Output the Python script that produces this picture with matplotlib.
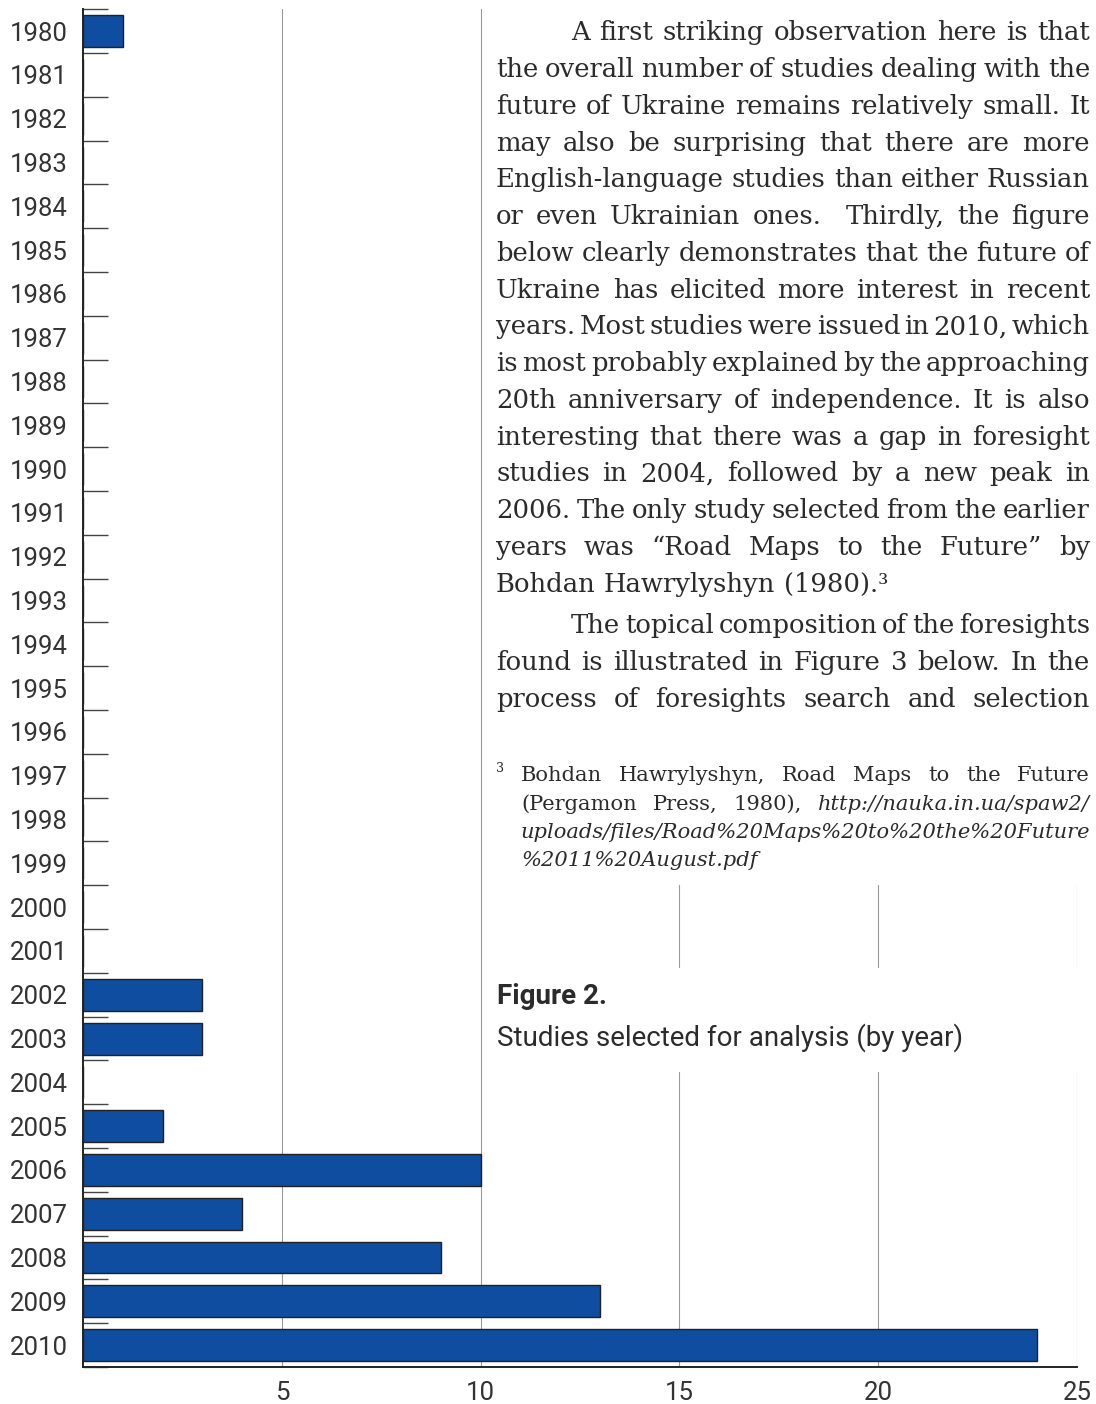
import numpy as np
import matplotlib.pyplot as plt
from matplotlib.patches import Rectangle

# data
years = ['1980', '1981', '1982', '1983', '1984', '1985', '1986', '1987', '1988', '1989',
         '1990', '1991', '1992', '1993', '1994', '1995', '1996', '1997', '1998', '1999',
         '2000', '2001', '2002', '2003', '2004', '2005', '2006', '2007', '2008', '2009', '2010']
counts = [1, 0, 0, 0, 0, 0, 0, 0, 0, 0,
          0, 0, 0, 0, 0, 0, 0, 0, 0, 0,
          0, 0, 3, 3, 0, 2, 10, 4, 9, 13, 24]
xticks = [5, 10, 15, 20, 25]

para1 = ["A first striking observation here is that",
         "the overall number of studies dealing with the",
         "future of Ukraine remains relatively small. It",
         "may also be surprising that there are more",
         "English-language studies than either Russian",
         "or even Ukrainian ones.  Thirdly, the figure",
         "below clearly demonstrates that the future of",
         "Ukraine has elicited more interest in recent",
         "years. Most studies were issued in 2010, which",
         "is most probably explained by the approaching",
         "20th anniversary of independence. It is also",
         "interesting that there was a gap in foresight",
         "studies in 2004, followed by a new peak in",
         "2006. The only study selected from the earlier",
         "years was \u201cRoad Maps to the Future\u201d by",
         "Bohdan Hawrylyshyn (1980).\u00b3"]
para2 = ["The topical composition of the foresights",
         "found is illustrated in Figure 3 below. In the",
         "process of foresights search and selection"]
footnote = [[("Bohdan Hawrylyshyn, Road Maps to the Future", 'normal')],
            [("(Pergamon Press, 1980),", 'normal'), ("http://nauka.in.ua/spaw2/", 'italic')],
            [("uploads/files/Road%20Maps%20to%20the%20Future", 'italic')],
            [("%2011%20August.pdf", 'italic')]]
fig_label = "Figure 2."
fig_caption = "Studies selected for analysis (by year)"

W, H = 1096, 1404
INK = '#2b2b2b'
SERIF = 'DejaVu Serif'
plt.rcParams['font.family'] = 'Roboto'

fig = plt.figure(figsize=(W / 100, H / 100), dpi=100)
ax = fig.add_axes([83 / W, 1 - 1367 / H, (1077 - 83) / W, (1367 - 9.3) / H])

pos = np.arange(len(years))
ax.barh(pos, counts, height=0.73, color='#0e4da0', edgecolor='#222222', linewidth=1.0, zorder=3)
ax.set_ylim(len(years) - 0.5, -0.5)
ax.set_xlim(0, 25)
ax.set_yticks(pos)
ax.set_yticklabels(years)
ax.set_yticks(np.arange(len(years) + 1) - 0.5, minor=True)
ax.tick_params(axis='y', which='major', length=0, pad=11, labelsize=18.5, labelcolor='#333333')
ax.tick_params(axis='y', which='minor', length=18, width=1.0, direction='in', color='#444444')
ax.set_xticks(xticks)
ax.tick_params(axis='x', length=0, pad=10, labelsize=18.5, labelcolor='#333333')
ax.xaxis.grid(True, color='#9a9a9a', linewidth=0.8)
ax.set_axisbelow(True)
ax.spines['top'].set_visible(False)
ax.spines['right'].set_visible(False)
for s in ['left', 'bottom']:
    ax.spines[s].set_linewidth(1.4)
    ax.spines[s].set_color('#222222')

# white panels for the text column
for y0, y1 in [(0, 885), (968, 1072)]:
    fig.add_artist(Rectangle((484 / W, 1 - y1 / H), (W - 484) / W, (y1 - y0) / H,
                             transform=fig.transFigure, facecolor='white',
                             edgecolor='none', zorder=5))

renderer = fig.canvas.get_renderer()


def text_width(s, size, style='normal'):
    if s == '':
        return 0.0
    t = fig.text(0, 0, s, fontsize=size, family=SERIF, style=style)
    w = t.get_window_extent(renderer).width
    t.remove()
    return w


def space_width(size):
    return text_width('a a', size) - text_width('aa', size)


def split_words(segs):
    words = []
    for s, st in segs:
        words += [(w, st) for w in s.split(' ')]
    return words


def draw_line(segs, x0, x1, yc, size, justify=True, off=6):
    words = split_words(segs)
    widths = [text_width(w, size, st) for w, st in words]
    if justify and len(words) > 1:
        gap = (x1 - x0 - sum(widths)) / (len(words) - 1)
    else:
        gap = space_width(size)
    x = x0
    for (w, st), wd in zip(words, widths):
        if w:
            fig.text(x / W, 1 - (yc + off) / H, w, fontsize=size, family=SERIF, style=st,
                     color=INK, va='baseline', zorder=6)
        x += wd + gap


# body size: largest size where every justified line keeps at least 0.5 of a space
body = 17.0
sp = space_width(body)
best = 100.0
for i, line in enumerate(para1[:-1] + para2):
    avail = (1090 - (571 if line in (para1[0], para2[0]) else 496))
    words = line.split(' ')
    nat = sum(text_width(w, body) for w in words) + 0.5 * sp * (len(words) - 1)
    best = min(best, body * avail / nat)
body = best

lead = 36.75
y = 34.3
for i, line in enumerate(para1):
    x0 = 571 if i == 0 else 496
    draw_line([(line, 'normal')], x0, 1090, y, body, justify=(i < len(para1) - 1))
    y += lead
y += 5
for i, line in enumerate(para2):
    x0 = 571 if i == 0 else 496
    draw_line([(line, 'normal')], x0, 1090, y, body, justify=True)
    y += lead

# footnote
fsize = 14.0
fsize = fsize * 569 / text_width(footnote[2][0][0], fsize, 'italic')
fy = [776, 805, 833, 861]
for i, segs in enumerate(footnote):
    draw_line(segs, 521, 1090, fy[i], fsize, justify=(i < len(footnote) - 1), off=5)
fig.text(496 / W, 1 - 772 / H, '3', fontsize=fsize * 0.6, family=SERIF, color=INK,
         va='baseline', zorder=6)

fig.text(497 / W, 1 - 1004 / H, fig_label, fontsize=20, fontweight='bold', color='#2b2b2b',
         va='baseline', zorder=6)
fig.text(497 / W, 1 - 1046 / H, fig_caption, fontsize=20, color='#2b2b2b',
         va='baseline', zorder=6)

fig.savefig('out.png', dpi=100, facecolor='white')
